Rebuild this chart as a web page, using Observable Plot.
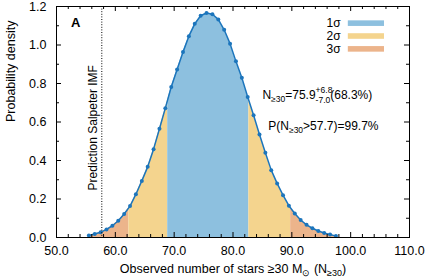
<!DOCTYPE html>
<html><head><meta charset="utf-8">
<script src="https://cdn.jsdelivr.net/npm/d3@7"></script>
<script src="https://cdn.jsdelivr.net/npm/@observablehq/plot@0.6"></script>
<style>body{margin:0;background:#fff}</style>
</head><body><div id="chart"></div>
<script>
// ---- data ----
const nStars = [55.5,56.5,57.5,58.5,59.5,60.5,61.5,62.5,63.5,64.5,65.5,66.5,67.5,68.5,69.5,70.5,71.5,72.5,73.5,74.5,75.5,76.5,77.5,78.5,79.5,80.5,81.5,82.5,83.5,84.5,85.5,86.5,87.5,88.5,89.5,90.5,91.5,92.5,93.5,94.5,95.5,96.5,97.5];
const density = [0.010,0.018,0.027,0.042,0.061,0.087,0.122,0.163,0.225,0.294,0.367,0.459,0.565,0.672,0.782,0.873,0.963,1.046,1.110,1.152,1.166,1.160,1.133,1.079,1.007,0.915,0.830,0.730,0.635,0.535,0.440,0.350,0.281,0.220,0.165,0.125,0.091,0.066,0.048,0.034,0.023,0.015,0.008];
const bandLevels = ["3σ","2σ","1σ","2σ","3σ"];
const bandEdges = [55.5,62.3,68.9,82.7,89.8,97.5];
const legendLevels = ["1σ","2σ","3σ"];
const median = 75.9, errPlus = 6.8, errMinus = 7.0, prob1 = "68.3%";
const salpeter = 57.7, probAbove = "99.7%";
const salpeterLabel = "Prediction Salpeter IMF";
const panelLabel = "A";
const xTicks = [50,60,70,80,90,100,110];
const yTicks = [0,0.2,0.4,0.6,0.8,1.0,1.2];

// ---- styling ----
const W = 427, H = 279, mL = 56, mR = 18, mT = 6, mB = 42;
const pw = W - mL - mR, ph = H - mT - mB;
const colors = ["#8dc0df", "#f4d48e", "#ecb48b"];
const lineColor = "#1c75bc";
const font = "Liberation Sans, Arial, Helvetica, sans-serif";

const curve = nStars.map((n, i) => ({n, d: density[i]}));
const bands = bandLevels.map((level, i) => ({level, x1: bandEdges[i], x2: bandEdges[i+1]}));
const xMinor = d3.range(50, 111, 2).filter(v => v % 10 !== 0);
const yMinor = d3.range(1, 12, 2).map(v => v / 10);

const rich = {
  line1: [{t:"N"},{t:"≥30",size:8.5,dy:3},{t:"="+median.toFixed(1),dy:-3},{t:"+"+errPlus.toFixed(1),size:8.5,dy:-6,sup:true},{t:"-"+errMinus.toFixed(1),size:8.5,dy:10.5,back:true},{t:"("+prob1+")",dy:-4.5}],
  line2: [{t:"P(N"},{t:"≥30",size:8.5,dy:3},{t:">"+salpeter.toFixed(1)+")="+probAbove,dy:-3}],
  xlab: [{t:"Observed number of stars ≥30 M"},{t:"⊙",size:9,dy:3.5},{t:" (N",dy:-3.5},{t:"≥30",size:9,dy:3},{t:")",dy:-3}]
};
const plain = k => rich[k].map(p => p.t).join("");

const legend = legendLevels.map((level, i) => ({level, y: 1.1109 - i * 0.0668}));

const chart = Plot.plot({
  width: W, height: H, marginLeft: mL, marginRight: mR, marginTop: mT, marginBottom: mB,
  style: {fontFamily: font, fontSize: "12px", background: "white", color: "black"},
  x: {domain: [50, 110]},
  y: {domain: [0, 1.2]},
  color: {domain: legendLevels, range: colors},
  marks: [
    Plot.rect(bands, {x1: "x1", x2: "x2", y1: 0, y2: 1.2, fill: "level"}),
    Plot.areaY(curve, {x: "n", y: "d", fill: "none"}),
    Plot.line(curve, {x: "n", y: "d", stroke: lineColor, strokeWidth: 1.5}),
    Plot.dot(curve, {x: "n", y: "d", r: 2, fill: lineColor}),
    Plot.ruleX([salpeter], {stroke: "black", strokeWidth: 1, strokeDasharray: "1,1.6"}),
    Plot.text([{x: salpeter, label: salpeterLabel}], {x: "x", y: 0.57, text: "label", rotate: -90, dx: -8.5, fontSize: 12, fill: "black"}),
    Plot.text([panelLabel], {frameAnchor: "top-left", textAnchor: "start", lineAnchor: "bottom", dx: 14.5, dy: 20, fontSize: 13, fontWeight: "bold", fill: "black"}),
    Plot.text([plain("line1")], {x: 85.0, y: 0.722, textAnchor: "start", lineAnchor: "bottom", fontSize: 12, fill: "black"}),
    Plot.text([plain("line2")], {x: 86.0, y: 0.561, textAnchor: "start", lineAnchor: "bottom", fontSize: 12, fill: "black"}),
    // legend
    Plot.rect(legend, {x1: 99.6, x2: 105.75, y1: d => d.y - 0.0145, y2: d => d.y + 0.0145, fill: "level"}),
    Plot.text(legend, {x: 98.3, y: "y", text: "level", textAnchor: "end", fontSize: 12, fill: "black"}),
    // ticks (inward, all four sides)
    Plot.tickX(xTicks, {x: d => d, insetTop: ph - 5, stroke: "black"}),
    Plot.tickX(xMinor, {x: d => d, insetTop: ph - 3, stroke: "black"}),
    Plot.tickX(xTicks, {x: d => d, insetBottom: ph - 5, stroke: "black"}),
    Plot.tickX(xMinor, {x: d => d, insetBottom: ph - 3, stroke: "black"}),
    Plot.tickY(yTicks, {y: d => d, insetRight: pw - 5, stroke: "black"}),
    Plot.tickY(yMinor, {y: d => d, insetRight: pw - 3, stroke: "black"}),
    Plot.tickY(yTicks, {y: d => d, insetLeft: pw - 5, stroke: "black"}),
    Plot.tickY(yMinor, {y: d => d, insetLeft: pw - 3, stroke: "black"}),
    Plot.axisX(xTicks, {tickSize: 0, tickPadding: 9, tickFormat: d => d.toFixed(1), fontSize: 12.5, label: null}),
    Plot.axisY(yTicks, {tickSize: 0, tickPadding: 10, tickFormat: d => d.toFixed(1), fontSize: 12.5, label: null}),
    Plot.text([plain("xlab")], {frameAnchor: "bottom", lineAnchor: "bottom", dy: 35, fontSize: 12.5, fill: "black"}),
    Plot.text(["Probability density"], {frameAnchor: "left", rotate: -90, dx: -45.5, fontSize: 12.5, fill: "black"}),
    Plot.frame({stroke: "black", strokeWidth: 1})
  ]
});
document.getElementById("chart").append(chart);

const svgSel = d3.select(chart);

// clip the sigma bands to the area under the curve
const areaG = svgSel.select('g[aria-label="area"]');
const areaPath = areaG.empty() ? null : areaG.select("path");
if (areaPath && !areaPath.empty()) {
  svgSel.insert("defs", ":first-child").append("clipPath").attr("id", "band-clip")
    .append("path").attr("d", areaPath.attr("d"));
  svgSel.select('g[aria-label="rect"]').attr("clip-path", "url(#band-clip)");
  areaG.remove();
}

// rich text: subscripts / stacked super-subscripts via tspans
for (const key of Object.keys(rich)) {
  const target = plain(key);
  svgSel.selectAll("text").filter(function() { return this.textContent === target; }).each(function() {
    const el = d3.select(this);
    el.text(null);
    let supW = 0;
    for (const p of rich[key]) {
      const ts = el.append("tspan").text(p.t);
      if (p.size) ts.attr("font-size", p.size);
      if (p.dy) ts.attr("dy", p.dy);
      if (p.back) ts.attr("dx", -supW);
      if (p.sup) supW = ts.node().getComputedTextLength();
    }
  });
}
</script>
</body></html>
